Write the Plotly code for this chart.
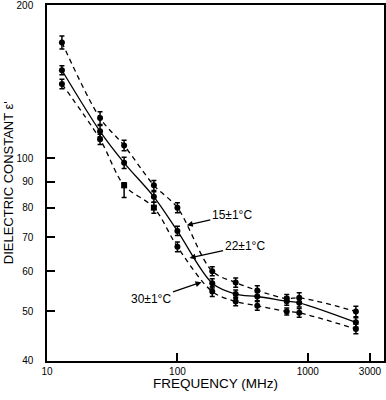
import plotly.graph_objects as go
import math

freq = [13, 25.5, 39, 66, 100, 185, 280, 410, 690, 860, 2340]

t15 = [169, 120, 106, 88.5, 80, 60, 57, 55, 53.0, 53.2, 50]
t22 = [149, 113, 98, 84, 72, 56.8, 54.1, 53.5, 52.4, 52.0, 47.6]
t30 = [140, 109, 88.5, 80, 67, 54.7, 52.3, 51.3, 50, 49.7, 46.2]

e15_up = [5, 3.5, 2.5, 2, 1.8, 1.2, 1.2, 1.2, 1, 1.2, 1.2]
e15_dn = [5, 3.5, 2.5, 2, 1.8, 1.2, 1.2, 1.2, 1, 1.2, 1.2]
e22_up = [3, 3, 2.5, 2, 1.5, 1.2, 1, 1, 1, 1, 1]
e22_dn = [3, 3, 2.5, 2, 1.5, 1.2, 1, 1, 1, 1, 1]
e30_up = [3, 2.5, 1, 2, 1.5, 1.2, 1, 1, 0.8, 1, 1]
e30_dn = [3, 2.5, 4.7, 2, 1.5, 1.2, 1, 1, 0.8, 1, 1]

sym30 = ["circle", "circle", "square", "square", "circle", "circle", "circle",
         "circle", "circle", "circle", "circle"]

labels = ["15±1°C", "22±1°C", "30±1°C"]
tip_f = [118, 124, 153]
tip_v = [73.9, 63.7, 57.1]

xticks = [10, 100, 1000, 3000]
yticks = [40, 50, 60, 70, 80, 90, 100, 200]

FONT = "Liberation Sans"

fig = go.Figure()

series = [
    (t15, e15_up, e15_dn, ["circle"] * len(freq), "5px,4px"),
    (t22, e22_up, e22_dn, ["circle"] * len(freq), "solid"),
    (t30, e30_up, e30_dn, sym30, "5px,4px"),
]
for vals, eu, ed, syms, dash in series:
    fig.add_trace(go.Scatter(
        x=freq, y=vals, mode="lines+markers",
        line=dict(color="black", width=1.3, dash=dash, shape="spline", smoothing=0.9),
        marker=dict(color="black", size=6, symbol=syms),
        error_y=dict(type="data", symmetric=False, array=eu, arrayminus=ed,
                     color="black", thickness=1.5, width=2.5),
        showlegend=False,
    ))

offsets = [(45, -10), (55, -12), (-50, 17)]
for lab, tf, tv, (ax, ay) in zip(labels, tip_f, tip_v, offsets):
    fig.add_annotation(
        x=math.log10(tf), y=math.log10(tv), xref="x", yref="y",
        text=lab, showarrow=True, ax=ax, ay=ay,
        arrowhead=2, arrowsize=1, arrowwidth=1.2, arrowcolor="black",
        font=dict(family=FONT, size=12, color="black"),
    )

fig.add_annotation(
    x=-0.115, y=0.5, xref="paper", yref="paper", xanchor="center", yanchor="middle",
    text="DIELECTRIC CONSTANT ε'", textangle=-90, showarrow=False,
    font=dict(family=FONT, size=13, color="black"),
)
fig.add_annotation(
    x=0.5, y=-0.062, xref="paper", yref="paper", xanchor="center", yanchor="middle",
    text="FREQUENCY (MHz)", showarrow=False,
    font=dict(family=FONT, size=13.5, color="black"),
)

fig.update_xaxes(
    type="log", range=[1 - 0.0005, math.log10(3845)],
    tickvals=xticks, ticktext=[str(v) for v in xticks],
    ticks="inside", ticklen=8, tickwidth=1.5, tickcolor="black",
    showline=True, linecolor="black", linewidth=1.5, mirror=True,
    showgrid=False, zeroline=False, automargin=False,
    ticklabeloverflow="allow",
    tickfont=dict(family=FONT, size=10, color="black"),
)
fig.update_yaxes(
    type="log", range=[math.log10(40) - 0.0005, math.log10(200) + 0.0005],
    tickvals=yticks, ticktext=[str(v) for v in yticks],
    ticks="inside", ticklen=8, tickwidth=1.5, tickcolor="black",
    showline=True, linecolor="black", linewidth=1.5, mirror=True,
    showgrid=False, zeroline=False, automargin=False,
    ticklabelstandoff=10, ticklabeloverflow="allow",
    tickfont=dict(family=FONT, size=10, color="black"),
)

fig.update_layout(
    width=386, height=400,
    margin=dict(l=47, r=2, t=5, b=39),
    paper_bgcolor="white", plot_bgcolor="white",
)

fig.write_html(
    "out.html",
    config={"displayModeBar": False},
    post_script="document.body.style.margin='0';document.body.style.padding='0';",
)
